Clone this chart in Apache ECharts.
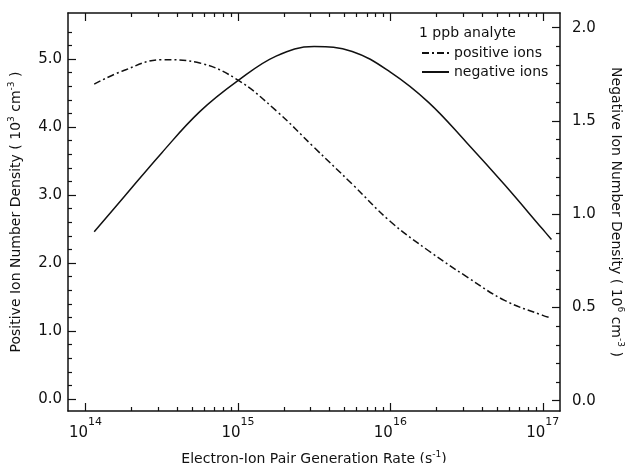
<!DOCTYPE html>
<html>
<head>
<meta charset="utf-8">
<script src="https://cdn.jsdelivr.net/npm/echarts@6/dist/echarts.min.js"></script>
<style>
  html, body { margin: 0; padding: 0; background: #fff; }
  #chart { width: 626px; height: 463px; }
</style>
</head>
<body>
<div id="chart"></div>
<script>
// generation rate (s^-1), about every quarter decade
var rates = [1.14e14, 1.78e14, 3.16e14, 5.62e14, 1e15, 1.78e15, 3.16e15, 5.62e15,
             1e16, 1.78e16, 3.16e16, 5.62e16, 1e17, 1.14e17];
// positive ions, 10^3 cm^-3 (left axis)
var positiveIons = [4.63, 4.83, 4.99, 4.94, 4.69, 4.24, 3.70, 3.16, 2.61, 2.18, 1.80, 1.45, 1.23, 1.19];
// negative ions, 10^6 cm^-3 (right axis)
var negativeIons = [0.906, 1.091, 1.329, 1.55, 1.716, 1.848, 1.899, 1.873, 1.762, 1.60, 1.385, 1.158, 0.919, 0.865];

var decadeTicks = [14, 15, 16, 17];
var leftTicks = [0, 1, 2, 3, 4, 5];
var rightTicks = [0, 0.5, 1, 1.5, 2];

var FONT = 'DejaVu Sans';

// minor ticks
var decadeMinor = [];
for (var d = 14; d < 17; d++) {
    for (var k = 2; k <= 9; k++) decadeMinor.push(d + Math.log10(k));
}
var leftMinor = [];
for (var i = 1; i <= 27; i++) { if (i % 5 !== 0) leftMinor.push(+(i * 0.2).toFixed(1)); }
var rightMinor = [];
for (var j = 1; j < 20; j++) { if (j % 5 !== 0) rightMinor.push(+(j * 0.1).toFixed(1)); }

// x is drawn on a log10 value axis
function toPoints(ys) {
    return rates.map(function (r, idx) { return [Math.log10(r), ys[idx]]; });
}

var chart = echarts.init(document.getElementById('chart'), null, { renderer: 'canvas' });

var supRich = {
    s: { fontSize: 9, lineHeight: 10, verticalAlign: 'top', fontFamily: FONT, color: '#111' }
};

function xAxisDef(pos, major) {
    return {
        type: 'value', position: pos, min: 13.885, max: 17.113,
        axisLine: { show: major, onZero: false, lineStyle: { color: '#111', width: 1.5 } },
        axisTick: { show: true, inside: true, length: major ? 8 : 4,
                    customValues: major ? decadeTicks : decadeMinor,
                    lineStyle: { color: '#111', width: 1.2 } },
        axisLabel: { show: major && pos === 'bottom', customValues: decadeTicks, margin: 6,
                     formatter: function (v) { return '{b|10}{t|' + v + '}'; },
                     rich: {
                         b: { fontSize: 15, lineHeight: 24, verticalAlign: 'bottom', fontFamily: FONT, color: '#111' },
                         t: { fontSize: 11, lineHeight: 12, verticalAlign: 'top', fontFamily: FONT, color: '#111' }
                     } },
        splitLine: { show: false }
    };
}

function yAxisDef(pos, min, max, ticks, labels, major) {
    return {
        type: 'value', position: pos, min: min, max: max,
        axisLine: { show: major, lineStyle: { color: '#111', width: 1.5 } },
        axisTick: { show: true, inside: true, length: major ? 8 : 4, customValues: ticks,
                    lineStyle: { color: '#111', width: 1.2 } },
        axisLabel: { show: !!labels, customValues: labels || [], margin: pos === 'left' ? 6 : 12,
                     fontSize: 15, fontFamily: FONT, color: '#111',
                     formatter: function (v) { return v.toFixed(1); } },
        splitLine: { show: false }
    };
}

var yLeft = yAxisDef('left', -0.176, 5.676, leftTicks, leftTicks, true);
yLeft.name = 'Positive Ion Number Density ( 10{s|3} cm{s|-3} )';
yLeft.nameLocation = 'middle';
yLeft.nameGap = 43;
yLeft.nameRotate = 90;
yLeft.nameTextStyle = { fontSize: 14, lineHeight: 18, fontFamily: FONT, color: '#111', rich: supRich };

var yRight = yAxisDef('right', -0.055, 2.079, rightTicks, rightTicks, true);
yRight.name = 'Negative Ion Number Density ( 10{s|6} cm{s|-3} )';
yRight.nameLocation = 'middle';
yRight.nameGap = 47;
yRight.nameRotate = -90;
yRight.nameTextStyle = { fontSize: 14, lineHeight: 18, fontFamily: FONT, color: '#111', rich: supRich };

var xBottom = xAxisDef('bottom', true);
xBottom.name = 'Electron-Ion Pair Generation Rate (s{s|-1})';
xBottom.nameLocation = 'middle';
xBottom.nameGap = 39;
xBottom.nameTextStyle = { fontSize: 14, lineHeight: 18, fontFamily: FONT, color: '#111', rich: supRich };

chart.setOption({
    backgroundColor: '#fff',
    animation: false,
    title: {
        text: '1 ppb analyte', left: 419, top: 26, padding: 0,
        textStyle: { fontSize: 14, fontWeight: 'normal', fontFamily: FONT, color: '#111' }
    },
    legend: {
        orient: 'vertical', left: 421, top: 46, padding: 0,
        itemWidth: 27, itemHeight: 14, itemGap: 5,
        itemStyle: { opacity: 0 },
        data: ['positive ions', 'negative ions'],
        textStyle: { fontSize: 14, fontFamily: FONT, color: '#111' }
    },
    grid: { left: 68, right: 66, top: 13, bottom: 52, show: false,
            containLabel: false, outerBoundsMode: 'none' },
    xAxis: [
        xBottom,
        xAxisDef('bottom', false),
        xAxisDef('top', true),
        xAxisDef('top', false)
    ],
    yAxis: [
        yLeft,
        yAxisDef('left', -0.176, 5.676, leftMinor, null, false),
        yRight,
        yAxisDef('right', -0.055, 2.079, rightMinor, null, false)
    ],
    series: [
        {
            name: 'positive ions', type: 'line', xAxisIndex: 0, yAxisIndex: 0,
            smooth: 0.4, symbol: 'none',
            lineStyle: { color: '#111', width: 1.5, type: [7, 3, 2, 3] },
            itemStyle: { color: '#111' },
            data: toPoints(positiveIons)
        },
        {
            name: 'negative ions', type: 'line', xAxisIndex: 0, yAxisIndex: 2,
            smooth: 0.4, symbol: 'none',
            lineStyle: { color: '#111', width: 1.5 },
            itemStyle: { color: '#111' },
            data: toPoints(negativeIons)
        }
    ]
});
</script>
</body>
</html>
